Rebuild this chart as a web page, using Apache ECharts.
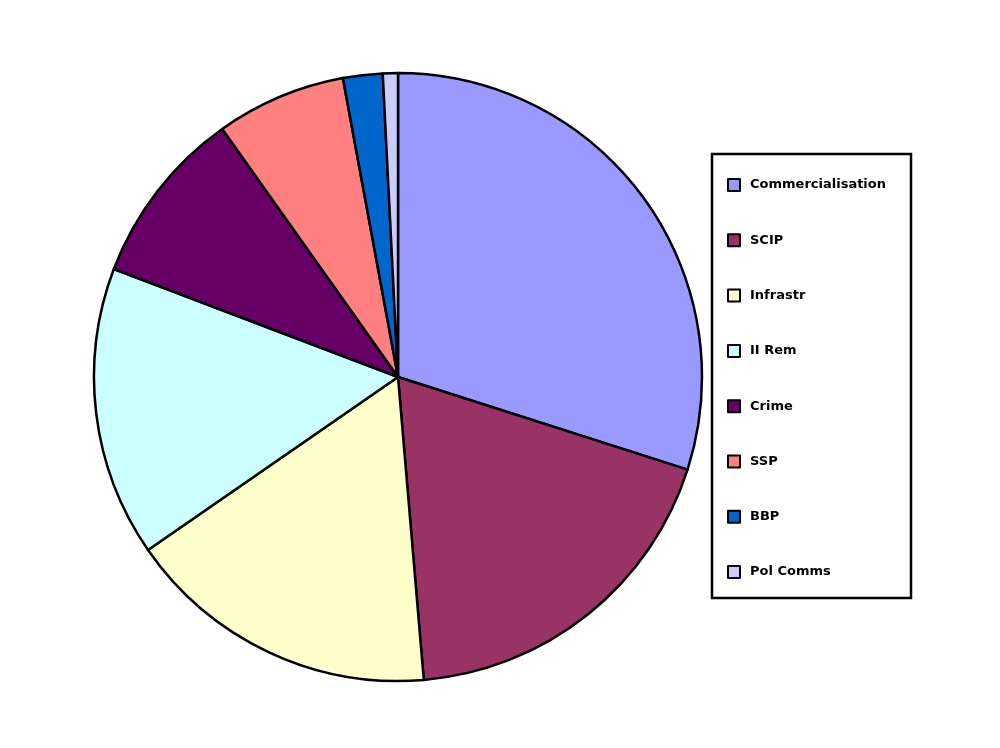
<!DOCTYPE html>
<html>
<head>
<meta charset="utf-8">
<script src="https://cdn.jsdelivr.net/npm/echarts@6/dist/echarts.min.js"></script>
<style>
  html, body { margin: 0; padding: 0; background: #fff; }
  #chart { width: 1000px; height: 748px; }
</style>
</head>
<body>
<div id="chart"></div>
<script>
    // slices, clockwise from 12 o'clock
    var categories = ["Commercialisation", "SCIP", "Infrastr", "II Rem", "Crime", "SSP", "BBP", "Pol Comms"];
    var shares = [29.9, 18.7, 16.7, 15.4, 9.4, 6.9, 2.1, 0.8];
    var sliceColors = ["#9999FF", "#993366", "#FFFFCC", "#CCFFFF", "#660066", "#FF8080", "#0066CC", "#CCCCFF"];

    var pieData = [];
    for (var i = 0; i < categories.length; i++) {
        pieData.push({ name: categories[i], value: shares[i], itemStyle: { color: sliceColors[i] } });
    }

    var chart = echarts.init(document.getElementById("chart"));
    var option = {
        animation: false,
        backgroundColor: "#fff",
        graphic: [
            {
                type: "rect",
                shape: { x: 712, y: 154, width: 199, height: 444 },
                style: { fill: "#fff", stroke: "#000", lineWidth: 2.5 },
                z: -1
            }
        ],
        legend: {
            orient: "vertical",
            left: 722,
            top: 173,
            itemWidth: 12,
            itemHeight: 12,
            itemGap: 41.3,
            icon: "rect",
            data: categories,
            itemStyle: { borderColor: "#000", borderWidth: 2 },
            textStyle: {
                fontFamily: "DejaVu Sans",
                fontWeight: "bold",
                fontSize: 13,
                color: "#000",
                padding: [0, 0, 0, 5]
            }
        },
        series: [
            {
                type: "pie",
                center: [398, 377],
                radius: ["0%", 304],
                startAngle: 90,
                clockwise: true,
                label: { show: false },
                labelLine: { show: false },
                emphasis: { disabled: true },
                itemStyle: { borderColor: "#000", borderWidth: 2.5 },
                data: pieData
            }
        ]
    };
    chart.setOption(option);
</script>
</body>
</html>
